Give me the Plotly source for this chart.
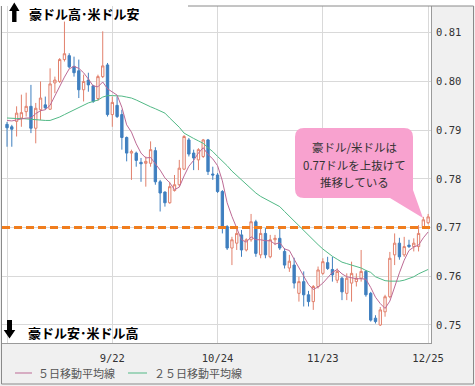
import plotly.graph_objects as go
import pandas as pd

# ---------------- data (AUD/USD daily) ----------------
dates = [d.strftime("%Y-%m-%d") for d in pd.bdate_range("2017-08-23", "2017-12-25")]

open_ = [0.7912, 0.7907, 0.7918, 0.7925, 0.7938, 0.7949, 0.7904, 0.7942, 0.7952, 0.7943,
         0.7997, 0.8000, 0.8045, 0.8053, 0.8031, 0.8022, 0.7983, 0.8003, 0.7991, 0.7965,
         0.8010, 0.8034, 0.7932, 0.7951, 0.7932, 0.7885, 0.7853, 0.7853, 0.7834, 0.7832,
         0.7832, 0.7858, 0.7794, 0.7773, 0.7751, 0.7776, 0.7788, 0.7820, 0.7880, 0.7853,
         0.7839, 0.7846, 0.7880, 0.7810, 0.7808, 0.7774, 0.7702, 0.7658, 0.7668, 0.7685,
         0.7654, 0.7675, 0.7712, 0.7644, 0.7688, 0.7640, 0.7675, 0.7678, 0.7651, 0.7617,
         0.7623, 0.7565, 0.7589, 0.7562, 0.7548, 0.7579, 0.7606, 0.7628, 0.7614, 0.7592,
         0.7596, 0.7565, 0.7586, 0.7589, 0.7596, 0.7610, 0.7565, 0.7514, 0.7500, 0.7527,
         0.7558, 0.7644, 0.7668, 0.7644, 0.7664, 0.7661, 0.7661, 0.7702, 0.7710]

high = [0.7917, 0.7911, 0.7949, 0.7973, 0.7977, 0.7993, 0.7956, 0.8000, 0.7969, 0.8027,
        0.8010, 0.8048, 0.8123, 0.8058, 0.8051, 0.8045, 0.8014, 0.8018, 0.7993, 0.8014,
        0.8103, 0.8038, 0.7969, 0.7969, 0.7942, 0.7887, 0.7860, 0.7856, 0.7843, 0.7846,
        0.7877, 0.7865, 0.7798, 0.7774, 0.7794, 0.7808, 0.7839, 0.7890, 0.7884, 0.7860,
        0.7863, 0.7882, 0.7882, 0.7825, 0.7812, 0.7777, 0.7705, 0.7681, 0.7699, 0.7695,
        0.7678, 0.7728, 0.7716, 0.7699, 0.7699, 0.7685, 0.7685, 0.7699, 0.7658, 0.7644,
        0.7638, 0.7599, 0.7610, 0.7570, 0.7582, 0.7620, 0.7637, 0.7640, 0.7640, 0.7616,
        0.7599, 0.7606, 0.7630, 0.7606, 0.7654, 0.7613, 0.7568, 0.7520, 0.7537, 0.7562,
        0.7650, 0.7688, 0.7679, 0.7681, 0.7675, 0.7678, 0.7705, 0.7722, 0.7728]

low = [0.7866, 0.7866, 0.7887, 0.7907, 0.7928, 0.7894, 0.7873, 0.7921, 0.7942, 0.7942,
       0.7976, 0.7997, 0.8041, 0.8027, 0.8010, 0.7966, 0.7959, 0.7979, 0.7956, 0.7960,
       0.8007, 0.7928, 0.7907, 0.7925, 0.7860, 0.7836, 0.7798, 0.7825, 0.7794, 0.7784,
       0.7825, 0.7788, 0.7733, 0.7743, 0.7749, 0.7774, 0.7784, 0.7818, 0.7846, 0.7818,
       0.7818, 0.7843, 0.7808, 0.7798, 0.7771, 0.7688, 0.7654, 0.7623, 0.7654, 0.7640,
       0.7651, 0.7671, 0.7640, 0.7637, 0.7637, 0.7637, 0.7664, 0.7654, 0.7616, 0.7609,
       0.7575, 0.7548, 0.7538, 0.7538, 0.7531, 0.7575, 0.7603, 0.7613, 0.7589, 0.7586,
       0.7551, 0.7551, 0.7548, 0.7579, 0.7589, 0.7558, 0.7507, 0.7503, 0.7498, 0.7517,
       0.7555, 0.7623, 0.7634, 0.7640, 0.7658, 0.7651, 0.7651, 0.7699, 0.7707]

close = [0.7905, 0.7902, 0.7935, 0.7936, 0.7949, 0.7904, 0.7945, 0.7966, 0.7946, 0.7995,
         0.8003, 0.8045, 0.8057, 0.8030, 0.8018, 0.7983, 0.8000, 0.7993, 0.7959, 0.8010,
         0.8032, 0.7932, 0.7957, 0.7928, 0.7885, 0.7853, 0.7856, 0.7838, 0.7831, 0.7836,
         0.7860, 0.7794, 0.7771, 0.7751, 0.7784, 0.7788, 0.7822, 0.7887, 0.7851, 0.7843,
         0.7860, 0.7880, 0.7815, 0.7808, 0.7774, 0.7702, 0.7658, 0.7675, 0.7688, 0.7654,
         0.7675, 0.7712, 0.7647, 0.7688, 0.7644, 0.7675, 0.7678, 0.7658, 0.7623, 0.7631,
         0.7586, 0.7589, 0.7562, 0.7548, 0.7579, 0.7613, 0.7630, 0.7616, 0.7603, 0.7610,
         0.7568, 0.7596, 0.7606, 0.7596, 0.7610, 0.7562, 0.7510, 0.7507, 0.7531, 0.7558,
         0.7637, 0.7668, 0.7640, 0.7661, 0.7661, 0.7668, 0.7688, 0.7716, 0.7722]

ma5 = [0.7920, 0.7919, 0.7921, 0.7923, 0.7925, 0.7925, 0.7934, 0.7940, 0.7942, 0.7951,
       0.7971, 0.7991, 0.8009, 0.8026, 0.8031, 0.8027, 0.8018, 0.8005, 0.7991, 0.7989,
       0.7999, 0.7985, 0.7978, 0.7972, 0.7947, 0.7911, 0.7896, 0.7872, 0.7853, 0.7843,
       0.7844, 0.7832, 0.7818, 0.7802, 0.7792, 0.7778, 0.7783, 0.7806, 0.7826, 0.7838,
       0.7853, 0.7864, 0.7850, 0.7841, 0.7827, 0.7796, 0.7751, 0.7723, 0.7699, 0.7675,
       0.7670, 0.7681, 0.7675, 0.7675, 0.7673, 0.7673, 0.7666, 0.7669, 0.7656, 0.7653,
       0.7635, 0.7617, 0.7598, 0.7583, 0.7573, 0.7578, 0.7586, 0.7597, 0.7608, 0.7614,
       0.7605, 0.7599, 0.7597, 0.7595, 0.7595, 0.7594, 0.7577, 0.7557, 0.7544, 0.7534,
       0.7549, 0.7580, 0.7607, 0.7633, 0.7653, 0.7660, 0.7664, 0.7679, 0.7691]

ma25 = [0.7925, 0.7924, 0.7924, 0.7924, 0.7923, 0.7922, 0.7921, 0.7920, 0.7920, 0.7920,
        0.7923, 0.7927, 0.7932, 0.7937, 0.7942, 0.7947, 0.7952, 0.7956, 0.7959, 0.7962,
        0.7968, 0.7971, 0.7971, 0.7971, 0.7970, 0.7968, 0.7966, 0.7962, 0.7957, 0.7952,
        0.7948, 0.7944, 0.7940, 0.7935, 0.7925, 0.7916, 0.7906, 0.7894, 0.7888, 0.7883,
        0.7878, 0.7873, 0.7864, 0.7856, 0.7846, 0.7837, 0.7827, 0.7816, 0.7807, 0.7798,
        0.7789, 0.7779, 0.7771, 0.7764, 0.7759, 0.7754, 0.7749, 0.7743, 0.7733, 0.7723,
        0.7714, 0.7703, 0.7693, 0.7683, 0.7675, 0.7665, 0.7656, 0.7648, 0.7641, 0.7635,
        0.7629, 0.7626, 0.7623, 0.7620, 0.7617, 0.7612, 0.7608, 0.7599, 0.7595, 0.7591,
        0.7590, 0.7590, 0.7590, 0.7592, 0.7596, 0.7599, 0.7605, 0.7610, 0.7614]

grid_dates = ["2017-08-23", "2017-09-22", "2017-10-24", "2017-11-23", "2017-12-25"]
grid_labels = ["", "9/22", "10/24", "11/23", "12/25"]
y_ticks = [0.75, 0.76, 0.77, 0.78, 0.79, 0.80, 0.81]
level = 0.77

# ---------------- styling ----------------
W, H = 475, 386
L, R, T, B = 2, 44, 6, 43
PW, PH = W - L - R, H - T - B

def px(x):
    return (x - L) / PW

def py(y):
    return (H - B - y) / PH

def pth(points):
    return "M " + " L ".join(f"{px(a)},{py(b)}" for a, b in points) + " Z"

UP = "#e2806c"
DOWN = "#3f7fbf"
C_MA5 = "#bd6a95"
C_MA25 = "#52b986"
JP = "Noto Sans CJK JP"

fig = go.Figure()
fig.add_trace(go.Candlestick(
    x=dates, open=open_, high=high, low=low, close=close,
    increasing=dict(line=dict(color=UP, width=1), fillcolor="#ffffff"),
    decreasing=dict(line=dict(color=DOWN, width=1), fillcolor=DOWN),
    whiskerwidth=0, showlegend=False, hoverinfo="skip"))
fig.add_trace(go.Scatter(x=dates, y=ma25, mode="lines",
                         line=dict(color=C_MA25, width=1), showlegend=False, hoverinfo="skip"))
fig.add_trace(go.Scatter(x=dates, y=ma5, mode="lines",
                         line=dict(color=C_MA5, width=1), showlegend=False, hoverinfo="skip"))

shapes = []
# white top strip
shapes.append(dict(type="rect", xref="paper", yref="paper", x0=px(0), x1=px(W), y0=py(6), y1=py(-2),
                   fillcolor="#ffffff", line=dict(width=0), layer="above"))
# level line
shapes.append(dict(type="line", xref="paper", yref="y", x0=0, x1=1, y0=level, y1=level,
                   line=dict(color="#f07d1e", width=3, dash="8px,4px"), layer="above"))
# outer frame
fc = "#8a8a8a"
shapes += [
    dict(type="line", xref="paper", yref="paper", x0=px(188), x1=px(473.5), y0=py(6), y1=py(6), line=dict(color=fc, width=1)),
    dict(type="line", xref="paper", yref="paper", x0=px(1.5), x1=px(1.5), y0=py(6), y1=py(384), line=dict(color=fc, width=1)),
    dict(type="line", xref="paper", yref="paper", x0=px(473.5), x1=px(473.5), y0=py(6), y1=py(384), line=dict(color=fc, width=1)),
    dict(type="line", xref="paper", yref="paper", x0=px(1.5), x1=px(473.5), y0=py(384), y1=py(384), line=dict(color=fc, width=1)),
]
# callout bubble
pts = ("M {a},{b} L {c},{b} Q {d},{b} {d},{e} L {d},{f} L {g},{h} L {i},{j} L {a},{j} "
       "Q {k},{j} {k},{f2} L {k},{e} Q {k},{b} {a},{b} Z")
path = pts.format(a=px(304), b=py(128), c=px(404), d=px(413), e=py(137), f=py(190),
                  g=px(423), h=py(218), i=px(390), j=py(198), k=px(295), f2=py(189))
shapes.append(dict(type="path", xref="paper", yref="paper", path=path,
                   fillcolor="#f8a2cf", line=dict(width=0), layer="above"))
# block arrows (up at top-left, down at bottom-left)
up_arrow = [(14.3, 2.5), (19.5, 11), (16.5, 11), (16.5, 22), (12.1, 22), (12.1, 11), (9.1, 11)]
down_arrow = [(9.5, 338.5), (15.3, 330), (12, 330), (12, 320), (7, 320), (7, 330), (3.7, 330)]
for arr in (up_arrow, down_arrow):
    shapes.append(dict(type="path", xref="paper", yref="paper", path=pth(arr),
                       fillcolor="#000000", line=dict(width=0), layer="above"))
# legend lines
shapes.append(dict(type="line", xref="paper", yref="paper", x0=px(15), x1=px(32), y0=py(373), y1=py(373),
                   line=dict(color=C_MA5, width=1)))
shapes.append(dict(type="line", xref="paper", yref="paper", x0=px(128), x1=px(147), y0=py(373), y1=py(373),
                   line=dict(color=C_MA25, width=1)))

ann = []
def text(x, y, s, size, color="#000", anchor="left", family=JP):
    ann.append(dict(xref="paper", yref="paper", x=px(x), y=py(y), text=s, showarrow=False,
                    xanchor=anchor, yanchor="middle", font=dict(family=family, size=size, color=color)))

text(27, 13, "<b>豪ドル高･米ドル安</b>", 13)
text(26, 332, "<b>豪ドル安･米ドル高</b>", 13)
text(354, 147, "豪ドル/米ドルは", 11.5, "#333", "center")
text(354, 165, "0.77ドルを上抜けて", 11.5, "#333", "center")
text(354, 182, "推移している", 11.5, "#333", "center")
text(36, 373, "５日移動平均線", 11, "#555")
text(152, 373, "２５日移動平均線", 11, "#555")

fig.update_layout(
    width=W, height=H, margin=dict(l=L, r=R, t=T, b=B, pad=0),
    paper_bgcolor="#f0f0f0", plot_bgcolor="#ffffff",
    shapes=shapes, annotations=ann, showlegend=False,
    xaxis=dict(type="category", range=[-1.05, 88.6], rangeslider=dict(visible=False),
               tickmode="array", tickvals=grid_dates, ticktext=grid_labels,
               showgrid=True, gridcolor="#d9d9d9", gridwidth=1,
               showline=True, linecolor="#9a9a9a", linewidth=1, ticks="",
               ticklabelstandoff=5,
               tickfont=dict(family="DejaVu Sans Mono", size=10.5, color="#333")),
    yaxis=dict(side="right", range=[0.7463, 0.8155], tickmode="array", tickvals=y_ticks,
               tickformat=".2f", showgrid=True, gridcolor="#d9d9d9", gridwidth=1,
               showline=True, linecolor="#9a9a9a", linewidth=1, ticks="", zeroline=False,
               ticklabelstandoff=2,
               tickfont=dict(family="DejaVu Sans Mono", size=10.5, color="#333")),
)

fig.write_html("out.html", config={"displayModeBar": False},
               post_script="document.body.style.margin='0px';document.body.style.overflow='hidden';")
